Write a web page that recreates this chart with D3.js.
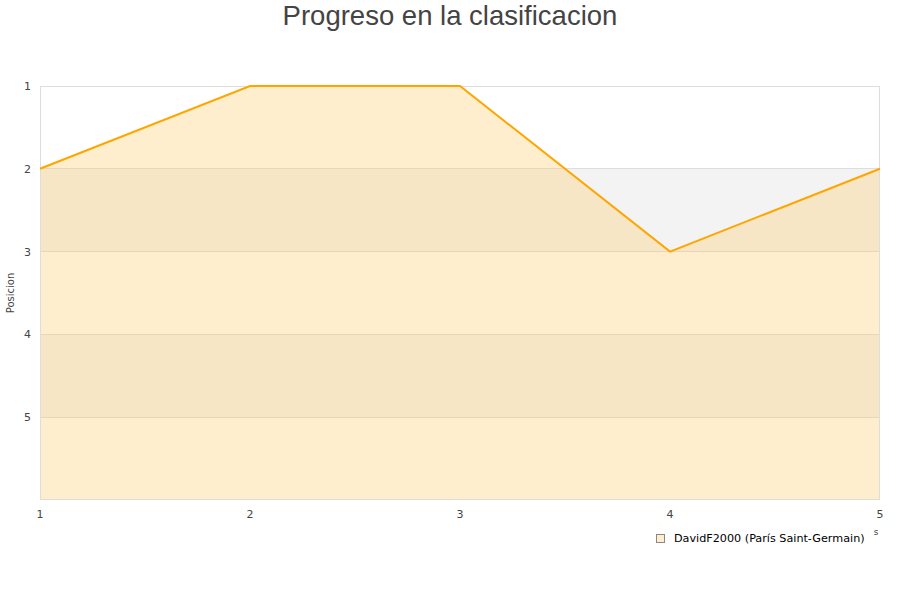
<!DOCTYPE html>
<html><head><meta charset="utf-8">
<script src="https://cdn.jsdelivr.net/npm/d3@7"></script>
<style>body{margin:0;background:#fff}svg{display:block}</style>
</head><body><svg id="c" width="900" height="600"></svg>
<script>
const jornadas = [1, 2, 3, 4, 5];
const posiciones = [2, 1, 1, 3, 2];
const yTicks = [1, 2, 3, 4, 5];
const seriesName = "DavidF2000 (París Saint-Germain)";
const title = "Progreso en la clasificacion";

const svg = d3.select("#c");
const L = 40, R = 880, T = 86, B = 500;
const x = d3.scaleLinear().domain([1, 5]).range([L, R]);
const y = d3.scaleLinear().domain([1, 6]).range([T, B]);

const bands = [1, 2, 3, 4, 5];
svg.selectAll("rect.band").data(bands).enter().append("rect")
  .attr("x", L).attr("width", R - L)
  .attr("y", d => y(d)).attr("height", d => y(d + 1) - y(d))
  .attr("fill", d => d % 2 === 0 ? "#f3f3f3" : "#ffffff");

svg.selectAll("line.grid").data(yTicks).enter().append("line")
  .attr("x1", L).attr("x2", R).attr("y1", d => y(d)).attr("y2", d => y(d))
  .attr("stroke", "#dddddd").attr("stroke-width", 1).attr("shape-rendering", "crispEdges");

const data = jornadas.map((j, i) => ({ j, p: posiciones[i] }));
svg.append("path").datum(data)
  .attr("d", d3.area().x(d => x(d.j)).y0(B).y1(d => y(d.p)))
  .attr("fill", "rgb(255,204,102)").attr("fill-opacity", 0.33);

svg.append("rect").attr("x", L + 0.5).attr("y", T + 0.5).attr("width", R - L - 1).attr("height", B - T - 1)
  .attr("fill", "none").attr("stroke", "#dddddd").attr("shape-rendering", "crispEdges");

svg.append("path").datum(data)
  .attr("d", d3.line().x(d => x(d.j)).y(d => y(d.p)))
  .attr("fill", "none").attr("stroke", "#ffa500").attr("stroke-width", 2);

svg.selectAll("text.yt").data(yTicks).enter().append("text")
  .attr("x", 31).attr("y", d => y(d) + 4).attr("text-anchor", "end")
  .attr("font-family", "DejaVu Sans").attr("font-size", 11).attr("fill", "#444")
  .text(d => d);

svg.selectAll("text.xt").data(jornadas).enter().append("text")
  .attr("x", d => x(d)).attr("y", 518).attr("text-anchor", "middle")
  .attr("font-family", "DejaVu Sans").attr("font-size", 11).attr("fill", "#444")
  .text(d => d);

svg.append("text").attr("transform", "translate(14,293) rotate(-90)")
  .attr("text-anchor", "middle").attr("font-family", "DejaVu Sans").attr("font-size", 10).attr("fill", "#444")
  .text("Posicion");

svg.append("text").attr("x", 876).attr("y", 535).attr("text-anchor", "middle")
  .attr("font-family", "DejaVu Sans").attr("font-size", 9).attr("fill", "#444").text("s");

svg.append("text").attr("x", 450).attr("y", 25).attr("text-anchor", "middle")
  .attr("font-family", "Liberation Sans, Arial, sans-serif").attr("font-size", 27.5).attr("fill", "#444")
  .text(title);

svg.append("rect").attr("x", 656.5).attr("y", 534.5).attr("width", 8).attr("height", 8)
  .attr("fill", "#ffedcc").attr("stroke", "#888").attr("stroke-width", 1);
svg.append("text").attr("x", 674).attr("y", 542)
  .attr("font-family", "DejaVu Sans").attr("font-size", 11.2).attr("fill", "#000")
  .text(seriesName);
</script></body></html>
